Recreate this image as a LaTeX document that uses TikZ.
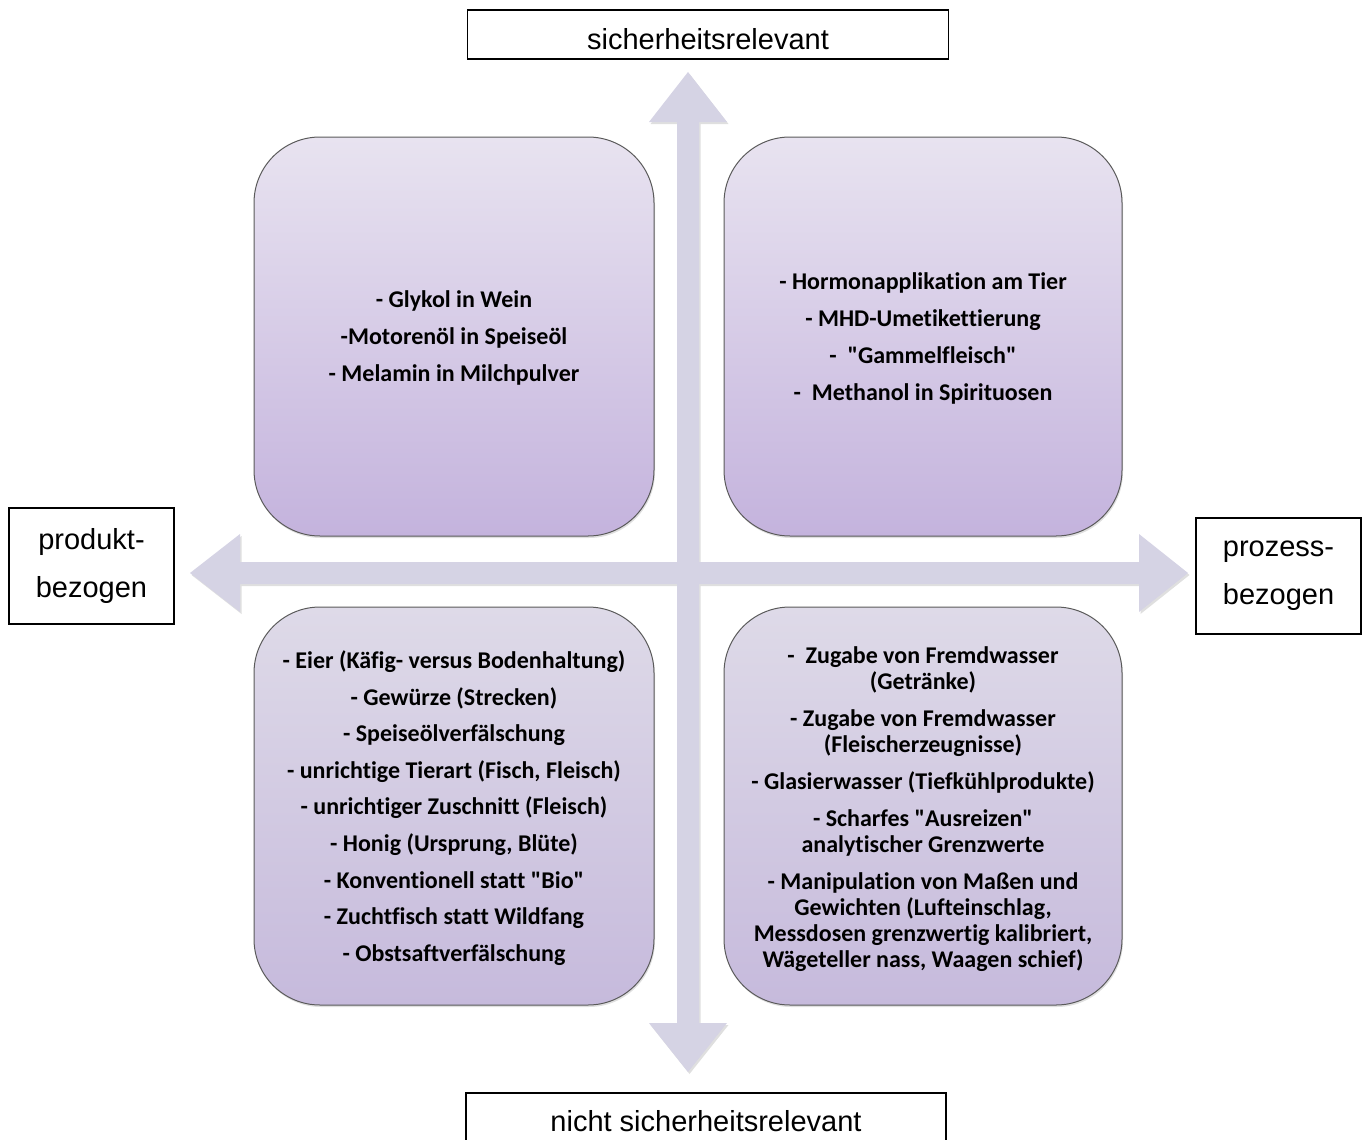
\documentclass[tikz,border=0pt]{standalone}
\usepackage{fontspec}
\setmainfont{Liberation Sans}
\newfontfamily\calib{Carlito}[Ligatures={NoCommon}]
\usetikzlibrary{shadows}
\definecolor{arrowfill}{HTML}{D5D3E4}
\definecolor{toptop}{HTML}{E8E3F0}
\definecolor{topbot}{HTML}{C4B3DD}
\definecolor{bottop}{HTML}{DEDAE8}
\definecolor{botbot}{HTML}{C6BADC}
\definecolor{boxline}{HTML}{5A5A5A}
\tikzset{
  quad/.style={draw=boxline, line width=1pt, rounded corners=66pt,
    drop shadow={shadow xshift=1pt, shadow yshift=-2pt, opacity=0.25, fill=gray}},
  quadtop/.style={quad, top color=toptop, bottom color=topbot},
  quadbot/.style={quad, top color=bottop, bottom color=botbot},
  itemtext/.style={align=center, font=\calib\bfseries\fontsize{24}{26}\selectfont, text=black},
  label/.style={draw=black, line width=1.4pt, fill=white, align=center,
    font=\fontsize{29}{48}\selectfont, inner sep=0pt},
  labeltext/.style={font=\fontsize{29}{48}\selectfont, inner sep=0pt},
  bigarrow/.style={fill=arrowfill,
    drop shadow={shadow xshift=1.5pt, shadow yshift=-2pt, opacity=0.25, fill=gray}}
}
\begin{document}
\begin{tikzpicture}[x=1pt,y=-1pt]
\useasboundingbox (0,0) rectangle (1365,1140);
% axis cross
\coordinate (c) at (688,573);
\fill[bigarrow] (677,122) -- (649,122) -- (688,72) -- (727,122) -- (699,122)
  -- (699,562) -- (1139,562) -- (1139,534) -- (1188,573) -- (1139,612) -- (1139,584)
  -- (699,584) -- (699,1023) -- (727,1023) -- (688,1072) -- (649,1023) -- (677,1023)
  -- (677,584) -- (240,584) -- (240,612) -- (190,573) -- (240,534) -- (240,562)
  -- (677,562) -- cycle;
% quadrants
\path[quadtop] (254,137) rectangle (654,536);
\path[quadtop] (724,137) rectangle (1122,536);
\path[quadbot] (254,607) rectangle (654,1005);
\path[quadbot] (724,607) rectangle (1122,1005);
\node[itemtext] (tl) at (454,338) {- Glykol in Wein\\[11pt]-Motorenöl in Speiseöl\\[11pt]- Melamin in Milchpulver};
\node[itemtext] (tr) at (923,338) {- Hormonapplikation am Tier\\[11pt]- MHD-Umetikettierung\\[11pt]-~~"Gammelfleisch"\\[11pt]-~~Methanol in Spirituosen};
\node[itemtext] (bl) at (454,808) {- Eier (Käfig- versus Bodenhaltung)\\[10.6pt]- Gewürze (Strecken)\\[10.6pt]- Speiseölverfälschung\\[10.6pt]- unrichtige Tierart (Fisch, Fleisch)\\[10.6pt]- unrichtiger Zuschnitt (Fleisch)\\[10.6pt]- Honig (Ursprung, Blüte)\\[10.6pt]- Konventionell statt "Bio"\\[10.6pt]- Zuchtfisch statt Wildfang\\[10.6pt]- Obstsaftverfälschung};
\node[itemtext] (br) at (923,809) {-~~Zugabe von Fremdwasser\\(Getränke)\\[11pt]- Zugabe von Fremdwasser\\(Fleischerzeugnisse)\\[11pt]- Glasierwasser (Tiefkühlprodukte)\\[11pt]- Scharfes "Ausreizen"\\analytischer Grenzwerte\\[11pt]- Manipulation von Maßen und\\Gewichten (Lufteinschlag,\\Messdosen grenzwertig kalibriert,\\Wägeteller nass, Waagen schief)};
% axis labels
\node[label, minimum width=481pt, minimum height=49pt] (top) at (708,34.5) {};
\node[labeltext] (toptxt) at (708,39) {sicherheitsrelevant};
\node[label, minimum width=480pt, minimum height=60pt] (bot) at (706,1123) {};
\node[labeltext] (bottxt) at (706,1121) {nicht sicherheitsrelevant};
\node[label, minimum width=165pt, minimum height=116pt] (left) at (91.5,566) {produkt-\\bezogen};
\node[label, minimum width=165pt, minimum height=116pt] (right) at (1278.5,576) {prozess-\\bezogen};
\end{tikzpicture}
\end{document}
